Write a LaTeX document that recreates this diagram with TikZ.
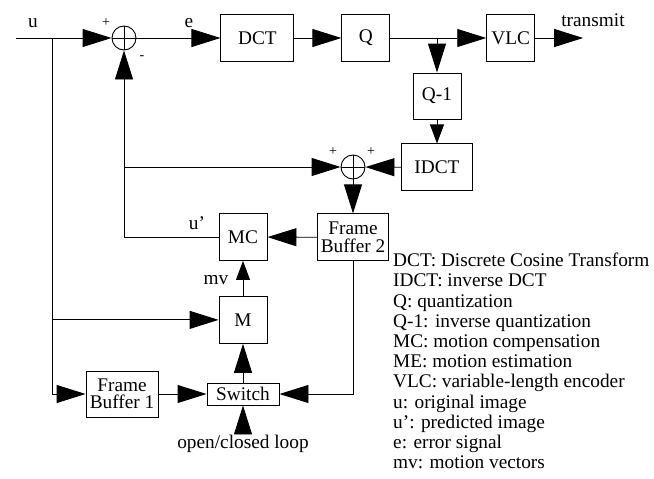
\documentclass[tikz,border=0pt]{standalone}
\usepackage{fontspec}
\setmainfont{Liberation Serif}
\usetikzlibrary{arrows.meta, positioning}
\tikzset{
  blk/.style = {
    rectangle, draw, line width=0.9pt,
    minimum width=48pt, minimum height=47pt, inner sep=2pt,
    align=center, font=\fontsize{19.3}{17.5}\selectfont
  },
  adder/.style = {circle, draw, line width=0.9pt, minimum size=24pt, inner sep=0pt,
    path picture={\draw[line width=0.9pt]
      (path picture bounding box.north) -- (path picture bounding box.south)
      (path picture bounding box.west) -- (path picture bounding box.east);}},
  lbl/.style  = {font=\fontsize{19.3}{20.2}\selectfont, inner sep=0pt},
  sgn/.style  = {font=\fontsize{14}{14}\selectfont, inner sep=0pt},
  wire/.style = {line width=0.9pt},
  arr/.style  = {wire, -{Triangle[length=29pt, width=18pt]}},
  sarr/.style = {wire, -{Triangle[length=19pt, width=14pt]}},
}
\begin{document}
\begin{tikzpicture}[x=1pt, y=-1pt]
  \useasboundingbox (0,0) rectangle (654,479);

  % Forward path
  \node[adder] (sum1) at (124,38) {};
  \node[blk, minimum width=73pt, right=84pt of sum1] (dct) {DCT};
  \node[blk, right=47pt of dct] (q) {Q};
  \node[blk, right=96pt of q] (vlc) {VLC};
  \coordinate[right=48pt of vlc] (tx);

  % Reconstruction loop
  \coordinate (qbr) at (437,38);
  \node[blk, minimum height=46pt] (qinv) at (437,96) {Q-1};
  \node[blk, minimum width=71pt, below=24pt of qinv] (idct) {IDCT};
  \node[adder] (sum2) at (353,167) {};
  \node[blk, minimum width=71pt, below=34pt of sum2] (fb2) {Frame\\Buffer 2};
  \node[blk] (mc) at (243,237) {MC};
  \node[blk, below=35pt of mc] (m) {M};
  \node[blk, minimum width=72pt, minimum height=46pt] (fb1) at (122,394) {Frame\\Buffer 1};
  \node[blk, minimum width=72pt, minimum height=22pt] (sw) at (243,394) {Switch};
  \node[lbl, below=29pt of sw] (loop) {open/closed loop};

  % Input
  \coordinate (uin) at (16,38);
  \coordinate (ubr) at (52,38);

  % Arrows
  \draw[arr] (uin) -- (sum1);
  \draw[arr] (sum1) -- (dct);
  \draw[arr] (dct) -- (q);
  \draw[arr] (q) -- (vlc);
  \draw[arr] (vlc) -- (tx);
  \draw[arr] (qbr) -- (qinv);
  \draw[sarr] (qinv) -- (idct);
  \draw[arr] (idct) -- (sum2);
  \draw[arr] (sum2) -- (fb2);
  \draw[arr] (fb2) -- (mc);
  \draw[arr] (mc.west) -| (sum1.south);
  \draw[arr] (sum1 |- sum2) -- (sum2);
  \draw[sarr] (m) -- (mc);
  \draw[arr] (ubr) |- (fb1.west);
  \draw[arr] (ubr |- m) -- (m);
  \draw[arr] (fb1) -- (sw);
  \draw[arr] (fb2.south) |- (sw.east);
  \draw[arr] (sw) -- (m);
  \draw[arr] ([yshift=3pt]loop.north) -- (sw);

  % Labels
  \node[lbl] (ul) at (33,23) {u};
  \node[sgn] (p1) at (106,23) {+};
  \node[sgn] (n1) at (142,58) {-};
  \node[lbl] (el) at (189,23) {e};
  \node[lbl] (txl) at (593,20) {transmit};
  \node[sgn] (p2) at (333,152) {+};
  \node[sgn] (p3) at (371,152) {+};
  \node[lbl] (upl) at (197,223) {u’};
  \node[lbl] (mvl) at (216,280) {mv};

  % Legend
  \node[lbl, anchor=north west, align=left] (legend) at (393,253) {%
    DCT: Discrete Cosine Transform\\
    IDCT: inverse DCT\\
    Q: quantization\\
    Q-1: inverse quantization\\
    MC: motion compensation\\
    ME: motion estimation\\
    VLC: variable-length encoder\\
    u: original image\\
    u’: predicted image\\
    e: error signal\\
    mv: motion vectors};

\end{tikzpicture}
\end{document}
